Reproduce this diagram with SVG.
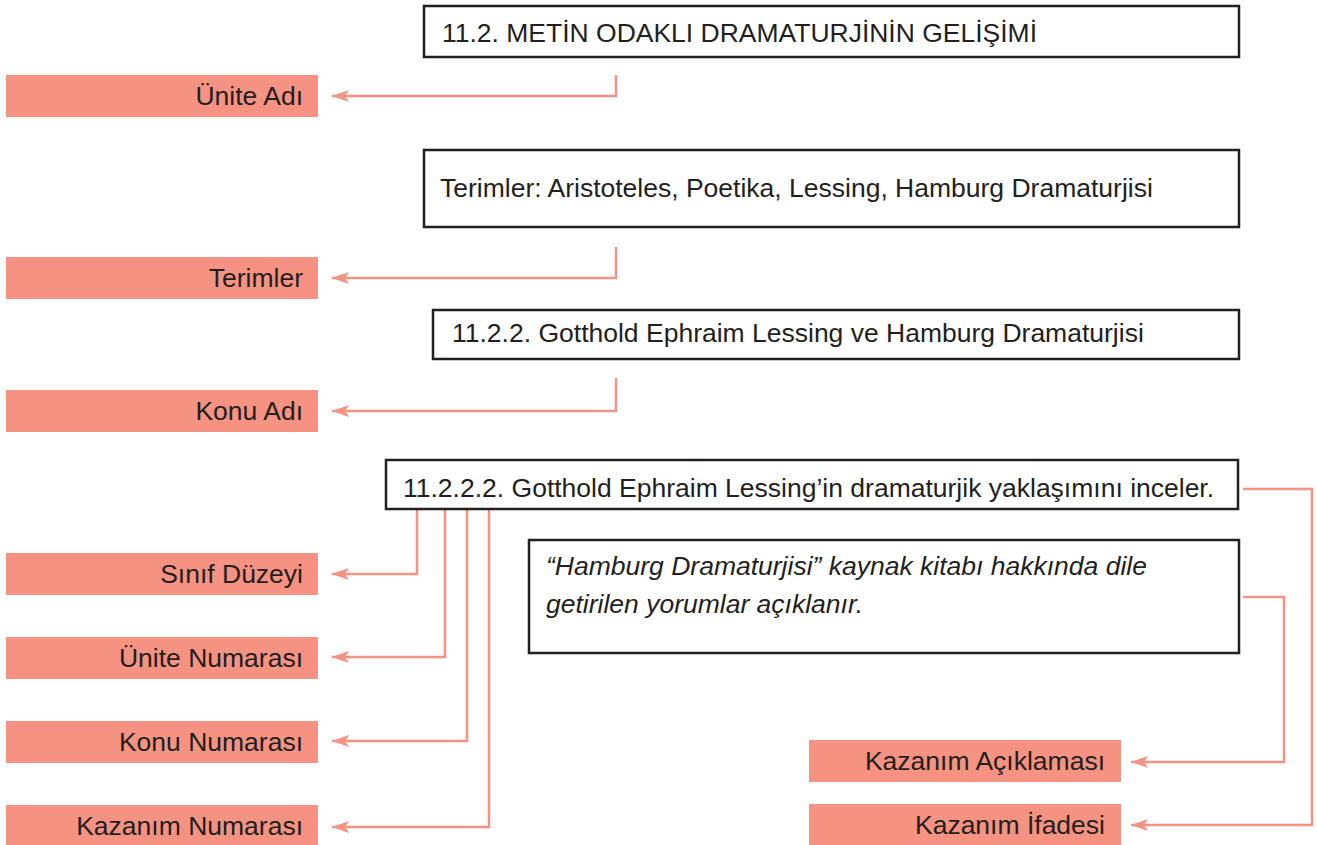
<svg xmlns="http://www.w3.org/2000/svg" width="1317" height="845" viewBox="0 0 1317 845">
<style>
.box{fill:#fff;stroke:#231f20;stroke-width:2.5}
.lbl{fill:#f59282}
.t{font-family:"Liberation Sans",Arial,sans-serif;font-size:26.5px;fill:#231f20}
.r{text-anchor:end}
.i{font-style:italic}
.c{fill:none;stroke:#f59282;stroke-width:2.5;marker-end:url(#ah)}
</style>
<defs>
<marker id="ah" markerUnits="userSpaceOnUse" markerWidth="18" markerHeight="14" refX="17" refY="7" orient="auto" viewBox="0 0 18 14">
<path d="M0,1 L17,7 L0,13 L4,7 Z" fill="#f59282"/>
</marker>
</defs>
<rect width="1317" height="845" fill="#fff"/>
<g id="connectors">
<path class="c" d="M616,75 V96 H332"/>
<path class="c" d="M616,247 V278 H332"/>
<path class="c" d="M616,378 V411 H332"/>
<path class="c" d="M417,502 V574 H332"/>
<path class="c" d="M445,502 V657 H332"/>
<path class="c" d="M467,502 V741 H332"/>
<path class="c" d="M489,502 V827 H332"/>
<path class="c" d="M1243,489 H1312 V825 H1131"/>
<path class="c" d="M1243,597 H1284 V762 H1131"/>
</g>
<g id="box-unite">
<rect class="box" x="424" y="6" width="815" height="51"/>
<text class="t" x="442" y="42" textLength="595" lengthAdjust="spacingAndGlyphs">11.2. METİN ODAKLI DRAMATURJİNİN GELİŞİMİ</text>
</g>
<g id="box-terimler">
<rect class="box" x="424" y="150" width="815" height="77"/>
<text class="t" x="440" y="197">Terimler: Aristoteles, Poetika, Lessing, Hamburg Dramaturjisi</text>
</g>
<g id="box-konu">
<rect class="box" x="433" y="310" width="806" height="49"/>
<text class="t" x="452" y="342">11.2.2. Gotthold Ephraim Lessing ve Hamburg Dramaturjisi</text>
</g>
<g id="box-kazanim">
<rect class="box" x="386" y="460" width="852" height="49"/>
<text class="t" x="403" y="497">11.2.2.2. Gotthold Ephraim Lessing’in dramaturjik yaklaşımını inceler.</text>
</g>
<g id="box-aciklama">
<rect class="box" x="529" y="540" width="710" height="113"/>
<text class="t i" x="546" y="575">“Hamburg Dramaturjisi” kaynak kitabı hakkında dile</text>
<text class="t i" x="546" y="613">getirilen yorumlar açıklanır.</text>
</g>
<g id="lbl-unite-adi"><rect class="lbl" x="6" y="75" width="312" height="42"/><text class="t r" x="303" y="105">Ünite Adı</text></g>
<g id="lbl-terimler"><rect class="lbl" x="6" y="257" width="312" height="42"/><text class="t r" x="303" y="287">Terimler</text></g>
<g id="lbl-konu-adi"><rect class="lbl" x="6" y="390" width="312" height="42"/><text class="t r" x="303" y="420">Konu Adı</text></g>
<g id="lbl-sinif"><rect class="lbl" x="6" y="553" width="312" height="42"/><text class="t r" x="303" y="583">Sınıf Düzeyi</text></g>
<g id="lbl-unite-no"><rect class="lbl" x="6" y="637" width="312" height="42"/><text class="t r" x="303" y="667">Ünite Numarası</text></g>
<g id="lbl-konu-no"><rect class="lbl" x="6" y="721" width="312" height="42"/><text class="t r" x="303" y="751">Konu Numarası</text></g>
<g id="lbl-kazanim-no"><rect class="lbl" x="6" y="805" width="312" height="40"/><text class="t r" x="303" y="835">Kazanım Numarası</text></g>
<g id="lbl-kazanim-aciklama"><rect class="lbl" x="809" y="740" width="312" height="42"/><text class="t r" x="1105" y="770">Kazanım Açıklaması</text></g>
<g id="lbl-kazanim-ifade"><rect class="lbl" x="809" y="804" width="312" height="41"/><text class="t r" x="1105" y="834">Kazanım İfadesi</text></g>
</svg>
